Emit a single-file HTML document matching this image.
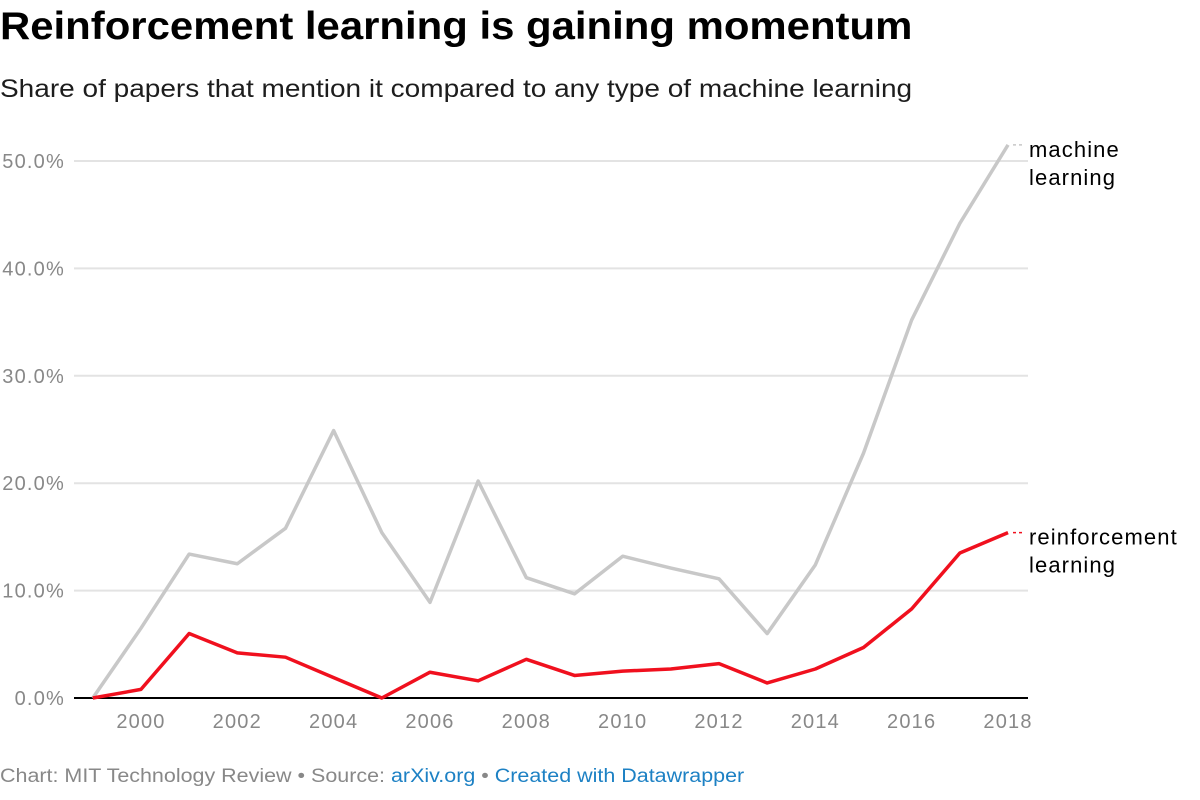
<!DOCTYPE html>
<html><head><meta charset="utf-8"><style>
body{margin:0;background:#fff;font-family:"Liberation Sans",sans-serif;}
#wrap{position:relative;width:1200px;height:800px;overflow:hidden}
h1{position:absolute;left:0;top:5px;margin:0;font-size:39px;font-weight:bold;color:#000;transform:scaleX(1.074);transform-origin:left top;white-space:nowrap}
.sub{position:absolute;left:0;top:75px;font-size:25px;color:#1d1d1d;transform:scaleX(1.12);transform-origin:left top;white-space:nowrap}
.foot{position:absolute;left:0;top:766px;font-size:19px;color:#888;transform:scaleX(1.13);transform-origin:left top;white-space:nowrap}
.foot a{color:#1d81c4;text-decoration:none}
svg{position:absolute;left:0;top:0}
</style></head><body><div id="wrap">
<h1>Reinforcement learning is gaining momentum</h1>
<div class="sub">Share of papers that mention it compared to any type of machine learning</div>
<svg id="chart" width="1200" height="800"></svg>
<div class="foot">Chart: MIT Technology Review • Source: <a>arXiv.org</a> • <a>Created with Datawrapper</a></div>
</div>
<script>
const years=[1999,2000,2001,2002,2003,2004,2005,2006,2007,2008,2009,2010,2011,2012,2013,2014,2015,2016,2017,2018];
const mlValues=[0,6.5,13.4,12.5,15.8,24.9,15.4,8.9,20.2,11.2,9.7,13.2,12.1,11.1,6.0,12.4,22.8,35.2,44.2,51.5];
const rlValues=[0,0.8,6.0,4.2,3.8,1.9,0.0,2.4,1.6,3.6,2.1,2.5,2.7,3.2,1.4,2.7,4.7,8.3,13.5,15.4];
const yTicks=[0,10,20,30,40,50];
const yTickLabels=["0.0%","10.0%","20.0%","30.0%","40.0%","50.0%"];
const xTicks=[2000,2002,2004,2006,2008,2010,2012,2014,2016,2018];
const NS="http://www.w3.org/2000/svg";
const svg=document.getElementById('chart');
const x=v=>92.8+(v-1999)*48.17;
const y=v=>698-v*10.74;
function mk(t,a){const e=document.createElementNS(NS,t);for(const k in a)e.setAttribute(k,a[k]);svg.appendChild(e);return e;}
yTicks.forEach((t,i)=>{
 if(t>0){const g=mk('line',{x1:74,x2:1028,y1:y(t),y2:y(t),stroke:'#e3e3e3','stroke-width':2});
 
 }
 const l=mk('text',{x:65,y:y(t)+7,'text-anchor':'end','font-size':20,'letter-spacing':'1.2',fill:'#888','font-family':'Liberation Sans, sans-serif'});
 l.textContent=yTickLabels[i];
 
 
});
xTicks.forEach(t=>{
 const l=mk('text',{x:x(t),y:728,'text-anchor':'middle','font-size':20,'letter-spacing':'1.2',fill:'#888','font-family':'Liberation Sans, sans-serif'});
 l.textContent=t;
 
 
});
const base=mk('line',{x1:74,x2:1028,y1:698,y2:698,stroke:'#000','stroke-width':2});


function series(vals,color,name,lab){
 const p=mk('polyline',{points:vals.map((v,i)=>x(years[i])+','+y(v)).join(' '),fill:'none',stroke:color,'stroke-width':3.5,'stroke-linejoin':'round'});
 
 
 const ly=y(vals[vals.length-1]);
 const d=mk('line',{x1:1013,x2:1022,y1:ly,y2:ly,stroke:color,'stroke-width':1.5,'stroke-dasharray':'3,3'});
 
 
 lab.forEach((s,i)=>{const t=mk('text',{x:1029,y:ly+12+i*28,'font-size':22,'letter-spacing':'1.1',fill:'#000','font-family':'Liberation Sans, sans-serif'});t.textContent=s;
 
 });
}
series(mlValues,'#c8c8c8','machine-learning-line',['machine','learning']);
series(rlValues,'#f0101e','reinforcement-learning-line',['reinforcement','learning']);
</script></body></html>
